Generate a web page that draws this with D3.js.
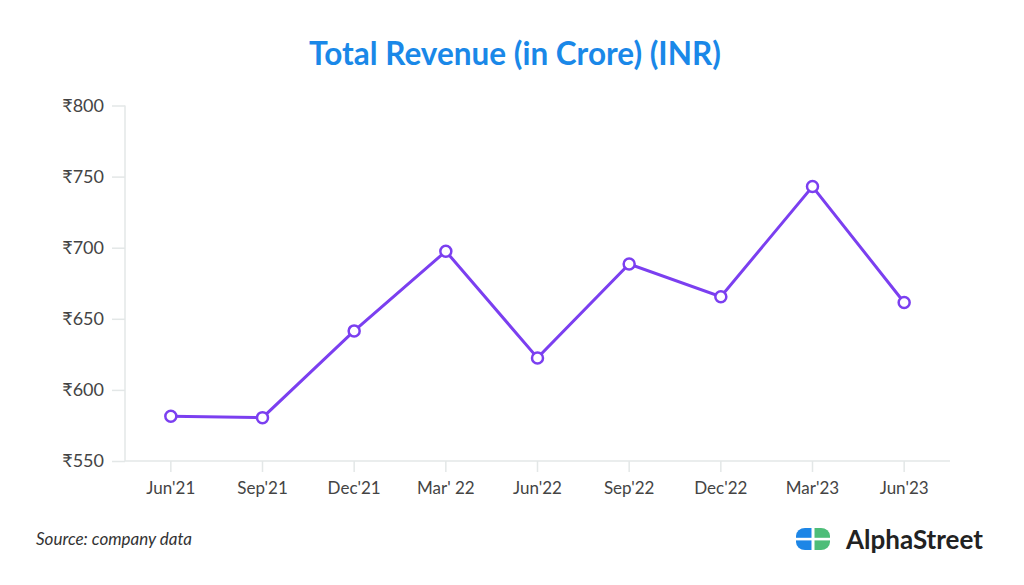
<!DOCTYPE html>
<html>
<head>
<meta charset="utf-8">
<script src="https://cdn.jsdelivr.net/npm/d3@7"></script>
<style>
  body { margin: 0; background: #fff; }
  svg { display: block; font-family: Lato, "Open Sans", sans-serif; }
</style>
</head>
<body>
<svg id="chart" width="1024" height="585"></svg>
<script>
// chart data
const quarters = ["Jun'21", "Sep'21", "Dec'21", "Mar' 22", "Jun'22", "Sep'22", "Dec'22", "Mar'23", "Jun'23"];
const revenue = [581.5, 580.5, 641.5, 697.5, 622.5, 688.5, 665.5, 743, 661.5];
const yTicks = [550, 600, 650, 700, 750, 800];

const svg = d3.select("#chart");
const marge = {top: 105.5, bottom: 124, left: 125, right: 74};
const width = +svg.attr("width");
const height = +svg.attr("height");

svg.append("rect").attr("width", width).attr("height", height).attr("fill", "#fff");

// title
svg.append("text")
  .attr("x", 515).attr("y", 65)
  .attr("text-anchor", "middle")
  .style("font-size", "31.5px").style("font-weight", "bold")
  .attr("fill", "#1a88e8")
  .text("Total Revenue (in Crore) (INR)");

var xScale = d3.scaleBand()
  .domain(quarters)
  .range([marge.left, width - marge.right]);
var yScale = d3.scaleLinear()
  .domain([550, 800])
  .range([height - marge.bottom, marge.top]);

// y axis
var yAxis = d3.axisLeft(yScale).tickValues(yTicks).tickSize(13).tickPadding(8)
  .tickFormat(d => "₹" + d);
var gy = svg.append("g").attr("transform", "translate(" + marge.left + ",0)").call(yAxis);
gy.select(".domain").attr("stroke", "#e3e7e7").attr("stroke-width", 1.5).attr("d", "M0," + yScale(550) + "V" + yScale(800));
gy.selectAll(".tick line").attr("stroke", "#e3e7e7").attr("stroke-width", 1.5);
gy.selectAll(".tick text").attr("fill", "#444").style("font-size", "18px").attr("font-family", "Lato, sans-serif");

// x axis
var xAxis = d3.axisBottom(xScale).tickSize(11).tickPadding(10);
var gx = svg.append("g").attr("transform", "translate(0," + yScale(550) + ")").call(xAxis);
gx.select(".domain").attr("stroke", "#e3e7e7").attr("stroke-width", 1.5).attr("d", "M" + marge.left + ",0H" + (width - marge.right));
gx.selectAll(".tick line").attr("stroke", "#e3e7e7").attr("stroke-width", 1.5);
gx.selectAll(".tick text").attr("fill", "#444").style("font-size", "17px").attr("font-family", "Lato, sans-serif");

// line
var line = d3.line()
  .x((d, i) => xScale(quarters[i]) + xScale.bandwidth() / 2)
  .y(d => yScale(d));
svg.append("path")
  .datum(revenue)
  .attr("fill", "none")
  .attr("stroke", "#7b3ff0")
  .attr("stroke-width", 3)
  .attr("d", line);

svg.selectAll("circle.pt")
  .data(revenue)
  .join("circle").attr("class", "pt")
  .attr("cx", (d, i) => xScale(quarters[i]) + xScale.bandwidth() / 2)
  .attr("cy", d => yScale(d))
  .attr("r", 5.5)
  .attr("fill", "#fff")
  .attr("stroke", "#7b3ff0")
  .attr("stroke-width", 2.5);

// source
svg.append("text")
  .attr("x", 36).attr("y", 545)
  .style("font-size", "17px").style("font-style", "italic")
  .attr("fill", "#333")
  .text("Source: company data");

// logo
var defs = svg.append("defs");
defs.append("clipPath").attr("id", "lhalf").append("rect").attr("x", 0).attr("y", 0).attr("width", 17).attr("height", 22);
defs.append("clipPath").attr("id", "rhalf").append("rect").attr("x", 17).attr("y", 0).attr("width", 17).attr("height", 22);
var logo = svg.append("g").attr("transform", "translate(796,528)");
logo.append("rect").attr("width", 34).attr("height", 22).attr("rx", 9).attr("ry", 8)
  .attr("fill", "#1d86e6").attr("clip-path", "url(#lhalf)");
logo.append("rect").attr("width", 34).attr("height", 22).attr("rx", 9).attr("ry", 8)
  .attr("fill", "#4dbd78").attr("clip-path", "url(#rhalf)");
logo.append("rect").attr("x", 15.5).attr("y", 0).attr("width", 3).attr("height", 22).attr("fill", "#fff");
logo.append("rect").attr("x", 0).attr("y", 9.8).attr("width", 34).attr("height", 2.6).attr("fill", "#fff");

svg.append("text")
  .attr("x", 846).attr("y", 549)
  .style("font-size", "26px").style("font-weight", "bold")
  .attr("fill", "#222")
  .text("AlphaStreet");
</script>
</body>
</html>
